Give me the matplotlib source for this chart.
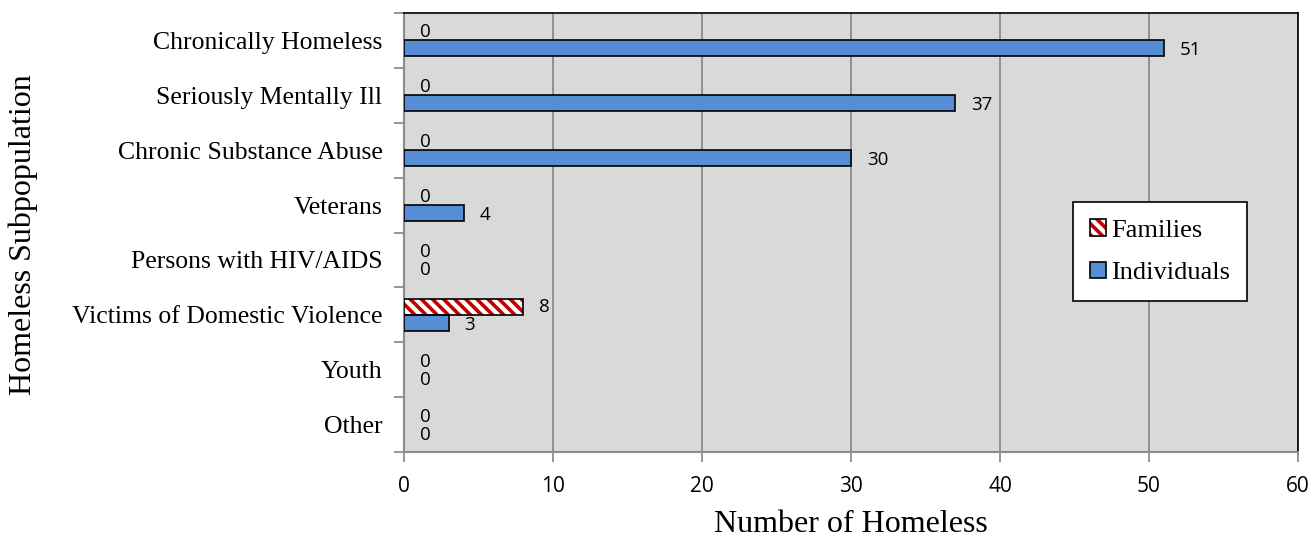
import matplotlib
matplotlib.use("Agg")
import matplotlib.pyplot as plt
from matplotlib.patches import Patch
import numpy as np

categories = ["Chronically Homeless", "Seriously Mentally Ill", "Chronic Substance Abuse",
              "Veterans", "Persons with HIV/AIDS", "Victims of Domestic Violence", "Youth", "Other"]
families = [0, 0, 0, 0, 0, 8, 0, 0]
individuals = [51, 37, 30, 4, 0, 3, 0, 0]
xticks = [0, 10, 20, 30, 40, 50, 60]

plt.rcParams['hatch.linewidth'] = 2.6

fig = plt.figure(figsize=(13.14, 5.4), dpi=100)
ax = fig.add_axes([404/1314, 1-452/540, (1298-404)/1314, (452-13)/540])
ax.set_facecolor('#D9D9D9')

y = np.arange(len(categories))
h = 0.29
RED = '#C00000'
BLUE = '#558ED5'
fh = ax.barh(y - h/2, families, height=h, color='white', edgecolor=RED, linewidth=0,
             hatch='\\\\\\', zorder=3)
fo = ax.barh(y - h/2, families, height=h, fill=False, edgecolor='black', linewidth=1.2, zorder=4)
ib = ax.barh(y + h/2, individuals, height=h, color=BLUE, edgecolor='black', linewidth=1.2,
             zorder=3)
for container, vals in ((fo, families), (ib, individuals)):
    for p, v in zip(container.patches, vals):
        if v == 0:
            p.set_linewidth(0)

lab_font = dict(fontsize=13.5, family='Open Sans', color='black')
for yi, v in zip(y - h/2, families):
    ax.annotate(str(v), (v, yi), xytext=(11.5, 0), textcoords='offset points',
                ha='left', va='center', **lab_font)
for yi, v in zip(y + h/2, individuals):
    ax.annotate(str(v), (v, yi), xytext=(11.5, -1.5), textcoords='offset points',
                ha='left', va='center', **lab_font)

ax.set_xlim(0, 60)
ax.set_ylim(len(categories) - 0.5, -0.5)
ax.set_xticks(xticks)
ax.set_xticklabels([str(t) for t in xticks], fontsize=15, family='Open Sans')
ax.tick_params(axis='x', length=7, color='#8C8C8C', width=1.3, pad=10)
ax.xaxis.grid(True, color='#8C8C8C', linewidth=1.3, zorder=0)
ax.set_axisbelow(True)

ax.set_yticks(y)
ax.set_yticklabels(categories, fontsize=18.5, family='Liberation Serif')
ax.tick_params(axis='y', which='major', length=0, pad=15.5)
ax.set_yticks(np.arange(-0.5, len(categories) + 0.5, 1), minor=True)
ax.tick_params(axis='y', which='minor', length=7, color='#8C8C8C', width=1.3)

for s in ['top', 'right']:
    ax.spines[s].set_color('black')
    ax.spines[s].set_linewidth(1.2)
for s in ['left', 'bottom']:
    ax.spines[s].set_color('#8C8C8C')
    ax.spines[s].set_linewidth(1.5)

ax.set_xlabel("Number of Homeless", fontsize=23, family='Liberation Serif', labelpad=10)
fig.text(0.018, 0.565, "Homeless Subpopulation", rotation=90, fontsize=23,
         family='Liberation Serif', ha='center', va='center')

fam_hatch = Patch(facecolor='white', edgecolor=RED, linewidth=0, hatch='\\\\\\')
fam_edge = Patch(fill=False, edgecolor='black', linewidth=1.2)
ind_patch = Patch(facecolor=BLUE, edgecolor='black', linewidth=1.2)
leg = ax.legend([(fam_hatch, fam_edge), ind_patch], ['Families', 'Individuals'],
                loc='upper left', bbox_to_anchor=((1073-404)/894, 1-(202-13)/439),
                prop={'family': 'Liberation Serif', 'size': 19}, frameon=True, fancybox=False,
                edgecolor='black', handlelength=0.6, handleheight=0.6, handletextpad=0.2,
                labelspacing=0.75, borderpad=0.65, borderaxespad=0, framealpha=1)
leg.get_frame().set_linewidth(1.2)

fig.savefig("out.png", dpi=100, facecolor='white')
